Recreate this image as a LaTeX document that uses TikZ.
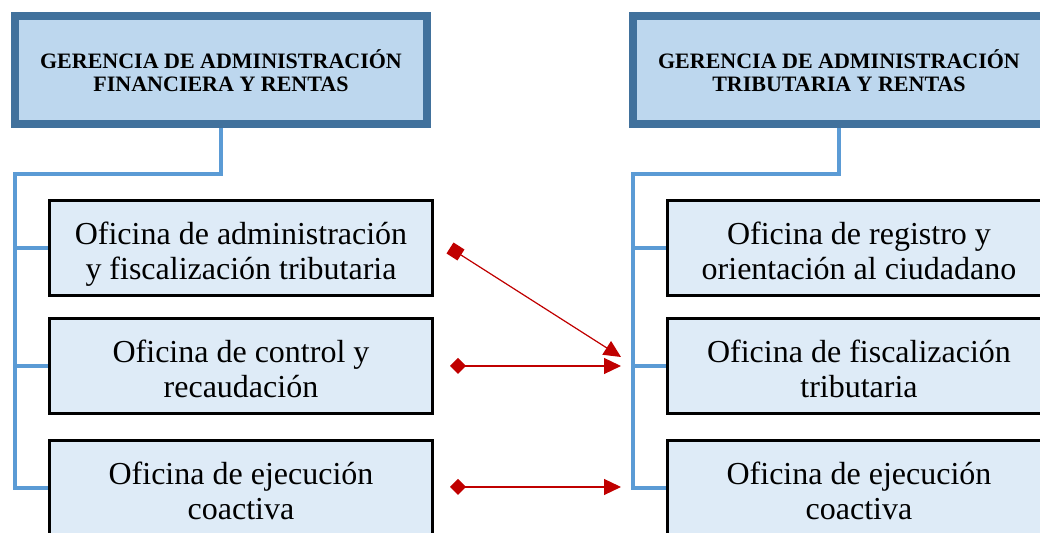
\documentclass[tikz,border=0pt]{standalone}
\usepackage{fontspec}
\setmainfont{Liberation Serif}
\usetikzlibrary{arrows.meta}

\definecolor{gerborde}{HTML}{41719C}
\definecolor{gerfondo}{HTML}{BDD7EE}
\definecolor{ofifondo}{HTML}{DEEBF7}
\definecolor{linea}{HTML}{5B9BD5}
\definecolor{flecha}{HTML}{C00000}

\begin{document}
\begin{tikzpicture}[x=0.5pt, y=-0.5pt,
  gerencia/.style={draw=gerborde, fill=gerfondo, line width=4pt, minimum width=206pt, minimum height=54pt, inner sep=0pt, align=center, text height=23.7pt, text depth=2pt, font=\fontsize{11}{11.7}\selectfont\bfseries},
  oficina/.style={draw=black, fill=ofifondo, line width=1.5pt, minimum width=191.5pt, minimum height=47.5pt, inner sep=0pt, align=center, text height=36pt, text depth=4pt, font=\fontsize{16}{17.5}\selectfont},
  rama/.style={draw=linea, line width=2pt},
  enlace/.style={draw=flecha, fill=flecha, line width=0.6pt}]

\useasboundingbox (0,0) rectangle (1040,533);

% gerencias
\node[gerencia] (gerA) at (221,70) {GERENCIA DE ADMINISTRACIÓN\\FINANCIERA Y RENTAS};
\node[gerencia] (gerB) at (839,70) {GERENCIA DE ADMINISTRACIÓN\\TRIBUTARIA Y RENTAS};

% oficinas
\node[oficina] (ofA1) at (241,248) {Oficina de administración\\y fiscalización tributaria};
\node[oficina] (ofA2) at (241,366) {Oficina de control y\\recaudación};
\node[oficina] (ofA3) at (241,488) {Oficina de ejecución\\coactiva};
\node[oficina] (ofB1) at (859,248) {Oficina de registro y\\orientación al ciudadano};
\node[oficina] (ofB2) at (859,366) {Oficina de fiscalización\\tributaria};
\node[oficina] (ofB3) at (859,488) {Oficina de ejecución\\coactiva};

% ramas
\coordinate (busA) at (15,174);
\coordinate (busB) at (633,174);
\draw[rama] (gerA.south) |- (busA) -- (busA |- ofA3.west) -- (ofA3.west);
\draw[rama] (gerB.south) |- (busB) -- (busB |- ofB3.west) -- (ofB3.west);
\foreach \o in {ofA1,ofA2} \draw[rama] (busA |- \o.west) -- (\o.west);
\foreach \o in {ofB1,ofB2} \draw[rama] (busB |- \o.west) -- (\o.west);

% enlaces
\coordinate (ini1) at (450,248);
\coordinate (fin1) at (621,357);
\coordinate (ini2) at (450,366);
\coordinate (fin2) at (621,366);
\coordinate (ini3) at (450,487);
\coordinate (fin3) at (621,487);
\draw[enlace, {Square[length=6.5pt,width=6.5pt]}-{Triangle[length=8.5pt,width=8pt]}] (ini1) -- (fin1);
\draw[enlace, {Turned Square[length=8pt,width=8pt]}-{Triangle[length=8.5pt,width=8pt]}] (ini2) -- (fin2);
\draw[enlace, {Turned Square[length=8pt,width=8pt]}-{Triangle[length=8.5pt,width=8pt]}] (ini3) -- (fin3);
\end{tikzpicture}
\end{document}
